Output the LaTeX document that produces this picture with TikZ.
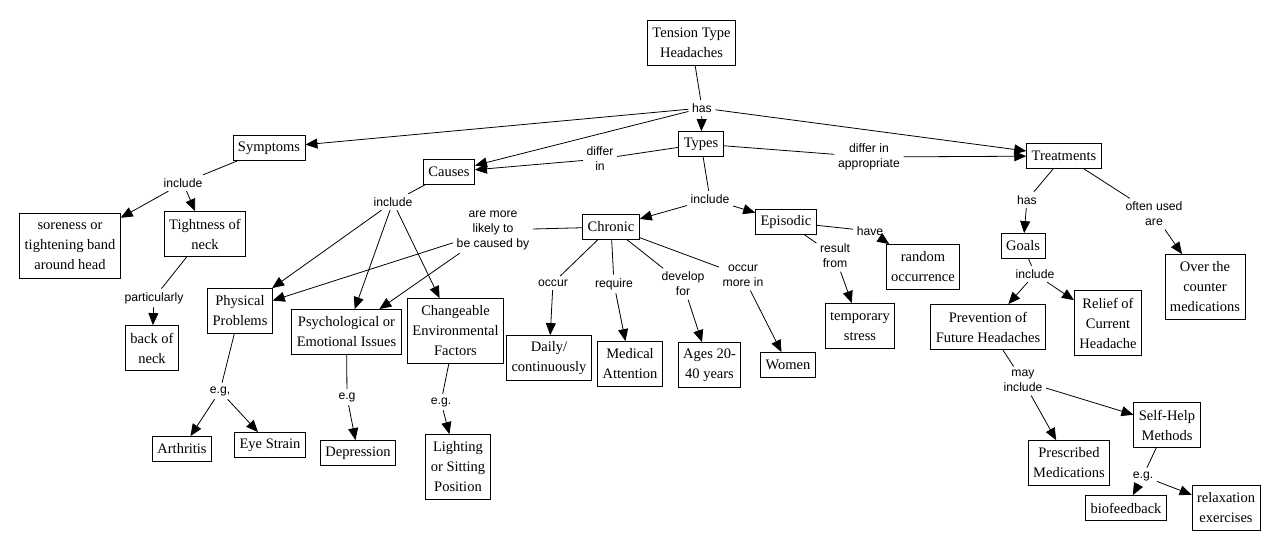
\documentclass[tikz,border=0pt]{standalone}
\usepackage{fontspec}
\setmainfont{Liberation Serif}
\newfontfamily\lsans{Liberation Sans}
\usetikzlibrary{arrows.meta}
\tikzset{
  concept/.style={draw, line width=0.8pt, align=center, font=\fontsize{14.5}{20}\selectfont, inner xsep=5pt, inner ysep=0pt},
  cone/.style={concept, minimum height=25pt},
  ctwo/.style={concept, minimum height=45pt},
  cthree/.style={concept, minimum height=65pt},
  link/.style={align=center, font=\lsans\fontsize{12.2}{15}\selectfont, inner sep=3.5pt},
  conn/.style={line width=0.8pt},
  arr/.style={conn, -{Triangle[length=12pt,width=10pt]}}
}
\begin{document}
\begin{tikzpicture}[x=1pt,y=-1pt]
\useasboundingbox (0,0) rectangle (1279,550);
% concepts
\node[ctwo] (tth) at (691.5,43) {Tension Type\\Headaches};
\node[cone] (types) at (701,144) {Types};
\node[cone] (symptoms) at (269,148) {Symptoms};
\node[cone] (causes) at (449,172) {Causes};
\node[cone] (treat) at (1064,156) {Treatments};
\node[cone] (chronic) at (611,227) {Chronic};
\node[cone] (episodic) at (786,222) {Episodic};
\node[cthree] (sore) at (70,246) {soreness or\\tightening band\\around head};
\node[ctwo] (tight) at (205,234) {Tightness of\\neck};
\node[ctwo] (back) at (152,348) {back of\\neck};
\node[ctwo] (phys) at (240,311) {Physical\\Problems};
\node[ctwo] (psych) at (346.5,332) {Psychological or\\Emotional Issues};
\node[cthree] (change) at (455.5,331) {Changeable\\Environmental\\Factors};
\node[cone] (arth) at (182,449) {Arthritis};
\node[cone] (eye) at (270,445) {Eye Strain};
\node[cone] (depr) at (358,453) {Depression};
\node[cthree] (light) at (458,467) {Lighting\\or Sitting\\Position};
\node[ctwo] (daily) at (549,358) {Daily/\\continuously};
\node[ctwo] (medical) at (630,364) {Medical\\Attention};
\node[ctwo] (ages) at (709.5,365) {Ages 20-\\40 years};
\node[cone] (women) at (788,365) {Women};
\node[ctwo] (random) at (923,267) {random\\occurrence};
\node[ctwo] (temp) at (860,326) {temporary\\stress};
\node[cone] (goals) at (1023,246) {Goals};
\node[cthree] (otc) at (1205,287) {Over the\\counter\\medications};
\node[ctwo] (prev) at (988,327) {Prevention of\\Future Headaches};
\node[cthree] (relief) at (1108,323) {Relief of\\Current\\Headache};
\node[ctwo] (presc) at (1069,463) {Prescribed\\Medications};
\node[ctwo] (selfhelp) at (1167,425) {Self-Help\\Methods};
\node[cone] (bio) at (1126,508) {biofeedback};
\node[ctwo] (relax) at (1226,508) {relaxation\\exercises};
% linking phrases
\node[link] (has) at (702,108) {has};
\node[link] (differin) at (600,159) {differ\\in};
\node[link] (differapp) at (869,157) {differ in\\appropriate};
\node[link] (incT) at (710,199) {include};
\node[link] (incS) at (183,183) {include};
\node[link] (partic) at (154,298) {particularly};
\node[link] (incC) at (393,202) {include};
\node[link] (likely) at (493,230) {are more\\likely to\\be caused by};
\node[link] (egP) at (220,391) {e.g,};
\node[link] (egPs) at (347,397) {e.g};
\node[link] (egC) at (441,402) {e.g.};
\node[link] (occur) at (553,283) {occur};
\node[link] (require) at (614,284) {require};
\node[link] (develop) at (683,284) {develop\\for};
\node[link] (occmore) at (743,276) {occur\\more in};
\node[link] (have) at (870,231) {have};
\node[link] (result) at (835,256) {result\\from};
\node[link] (hasT) at (1027,200) {has};
\node[link] (often) at (1154,214) {often used\\are};
\node[link] (incG) at (1035,274) {include};
\node[link] (mayinc) at (1023,381) {may\\include};
\node[link] (egS) at (1143,476) {e.g.};
% connectors
\draw[conn] (tth) -- (has);
\draw[arr] (has) -- (symptoms);
\draw[arr] (has) -- (causes);
\draw[arr] (has) -- (types);
\draw[arr] (has) -- (treat);
\draw[conn] (types) -- (differin);
\draw[arr] (differin) -- (causes);
\draw[conn] (types) -- (differapp);
\draw[arr] (differapp) -- (treat);
\draw[conn] (types) -- (incT);
\draw[arr] (incT) -- (chronic);
\draw[arr] (incT) -- (episodic);
\draw[conn] (symptoms) -- (incS);
\draw[arr] (incS) -- (sore);
\draw[arr] (incS) -- (tight);
\draw[conn] (tight) -- (partic);
\draw[arr] (partic) -- (back);
\draw[conn] (causes) -- (incC);
\draw[arr] (incC) -- (phys);
\draw[arr] (incC) -- (psych);
\draw[arr] (incC) -- (change);
\draw[conn] (chronic) -- (likely);
\draw[arr] (likely) -- (phys);
\draw[arr] (likely) -- (psych);
\draw[conn] (phys) -- (egP);
\draw[arr] (egP) -- (arth);
\draw[arr] (egP) -- (eye);
\draw[conn] (psych) -- (egPs);
\draw[arr] (egPs) -- (depr);
\draw[conn] (change) -- (egC);
\draw[arr] (egC) -- (light);
\draw[conn] (chronic) -- (occur);
\draw[arr] (occur) -- (daily);
\draw[conn] (chronic) -- (require);
\draw[arr] (require) -- (medical);
\draw[conn] (chronic) -- (develop);
\draw[arr] (develop) -- (ages);
\draw[conn] (chronic) -- (occmore);
\draw[arr] (occmore) -- (women);
\draw[conn] (episodic) -- (have);
\draw[arr] (have) -- (random);
\draw[conn] (episodic) -- (result);
\draw[arr] (result) -- (temp);
\draw[conn] (treat) -- (hasT);
\draw[arr] (hasT) -- (goals);
\draw[conn] (treat) -- (often);
\draw[arr] (often) -- (otc);
\draw[conn] (goals) -- (incG);
\draw[arr] (incG) -- (prev);
\draw[arr] (incG) -- (relief);
\draw[conn] (prev) -- (mayinc);
\draw[arr] (mayinc) -- (presc);
\draw[arr] (mayinc) -- (selfhelp);
\draw[conn] (selfhelp) -- (egS);
\draw[arr] (egS) -- (bio);
\draw[arr] (egS) -- (relax);
\end{tikzpicture}
\end{document}
